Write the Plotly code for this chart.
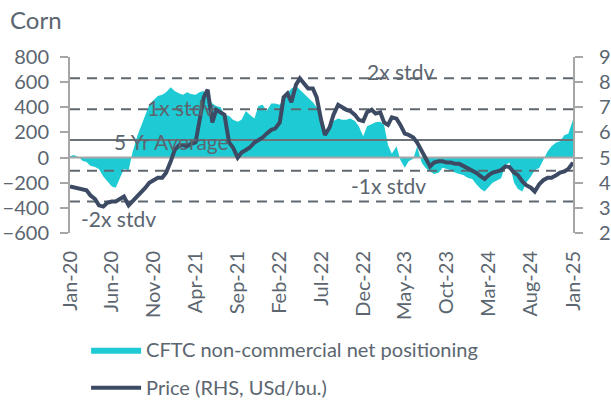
import pandas as pd
import plotly.graph_objects as go

# semi-monthly observation dates, Jan-2020 .. Jan-2025
dates = pd.date_range("2020-01-01", periods=121, freq="SMS")

positioning = [
    10, 20, 5, -25, -35, -65, -75, -90, -150, -190, -230, -240,
    -160, -90, -100, 40, 170, 250, 330, 420, 460, 490, 500, 520,
    560, 530, 510, 500, 520, 505, 500, 520, 530, 480, 430, 410,
    400, 340, 330, 300, 285, 300, 370, 340, 310, 410, 420, 370,
    430, 430, 420, 470, 510, 550, 570, 540, 510, 480, 440, 400,
    340, 190, 270, 290, 310, 300, 300, 310, 290, 250, 170, 250,
    270, 280, 285, 260, 100, 30, 90, -20, -80, -30, -10, 90,
    -40, -80, -110, -130, -120, -80, -90, -100, -120, -130, -140, -160,
    -170, -210, -250, -270, -230, -200, -180, -165, -60, -40, -200, -250,
    -270, -200, -150, -100, -80, -20, 50, 90, 120, 130, 180, 190,
    300,
]

price = [
    3.85, 3.82, 3.80, 3.75, 3.70, 3.50, 3.35, 3.10, 3.05, 3.20, 3.25, 3.25,
    3.35, 3.45, 3.10, 3.25, 3.45, 3.60, 3.80, 4.00, 4.10, 4.20, 4.20, 4.40,
    4.85, 5.30, 5.50, 5.50, 5.45, 5.55, 5.60, 6.50, 7.40, 7.70, 6.40, 6.90,
    6.80, 6.70, 5.60, 5.40, 5.00, 5.20, 5.30, 5.40, 5.60, 5.70, 5.80, 5.95,
    6.10, 6.15, 6.40, 7.40, 7.55, 7.20, 7.90, 8.15, 7.95, 7.75, 7.75, 7.40,
    6.50, 5.90, 6.20, 6.70, 7.10, 7.00, 6.90, 6.85, 6.70, 6.50, 6.45, 6.80,
    6.90, 6.75, 6.80, 6.40, 6.30, 6.60, 6.55, 6.30, 5.95, 5.90, 5.80, 5.60,
    5.30, 5.00, 4.65, 4.80, 4.85, 4.85, 4.80, 4.80, 4.75, 4.75, 4.65, 4.60,
    4.45, 4.40, 4.25, 4.15, 4.30, 4.40, 4.45, 4.50, 4.65, 4.62, 4.40, 4.30,
    4.05, 3.90, 3.80, 3.65, 3.95, 4.10, 4.20, 4.20, 4.30, 4.40, 4.45, 4.55,
    4.80,
]

avg_5yr = 140
stdv = 245

tick_dates = pd.date_range("2020-01-01", "2025-01-01", freq="5MS")
tick_labels = ["Jan-20", "Jun-20", "Nov-20", "Apr-21", "Sep-21", "Feb-22", "Jul-22",
               "Dec-22", "May-23", "Oct-23", "Mar-24", "Aug-24", "Jan-25"]

TEXT = "#5b6670"
CYAN = "#1ecbd4"
NAVY = "#3d4a63"
DASH = "#5f6870"
AXIS = "#a6a6a6"
FONT = "Lato"

fig = go.Figure()
fig.add_trace(go.Scatter(
    x=dates, y=positioning, mode="lines", fill="tozeroy",
    line=dict(width=0, color=CYAN), fillcolor=CYAN,
    name="CFTC non-commercial net positioning", legendgroup="a",
))

span = [dates[0], dates[-1]]
fig.add_trace(go.Scatter(x=span, y=[0, 0], mode="lines",
                         line=dict(color=AXIS, width=2), showlegend=False, hoverinfo="skip"))
fig.add_trace(go.Scatter(x=span, y=[avg_5yr, avg_5yr], mode="lines",
                         line=dict(color="#6b7278", width=2), showlegend=False, hoverinfo="skip"))
for k in (2, 1, -1, -2):
    lvl = avg_5yr + k * stdv
    fig.add_trace(go.Scatter(x=span, y=[lvl, lvl], mode="lines",
                             line=dict(color=DASH, width=2, dash="10px,7px"),
                             showlegend=False, hoverinfo="skip"))

fig.add_trace(go.Scatter(
    x=dates, y=price, mode="lines", yaxis="y2",
    line=dict(color=NAVY, width=4),
    name="Price (RHS, USd/bu.)", legendgroup="b",
))

ann_font = dict(family=FONT, size=21, color=TEXT)
ann_pos = [
    ("2x stdv", "2023-04-15", 681), ("1x stdv", "2021-02-04", 395),
    ("5 Yr Average", "2021-01-02", 124), ("-1x stdv", "2023-03-02", -226),
    ("-2x stdv", "2020-06-26", -488),
]
annotations = [dict(x=xd, y=yv, xref="x", yref="y", text=txt, showarrow=False,
                    font=ann_font, xanchor="center", yanchor="middle")
               for txt, xd, yv in ann_pos]

fig.update_layout(
    width=611, height=401,
    margin=dict(l=70, r=38, t=57, b=168, autoexpand=False),
    paper_bgcolor="white", plot_bgcolor="white",
    font=dict(family=FONT, size=20, color=TEXT),
    title=dict(text="Corn", x=10 / 611, xref="container", xanchor="left",
               y=1 - 21 / 401, yref="container", yanchor="middle",
               font=dict(family=FONT, size=24, color=TEXT)),
    showlegend=True,
    legend=dict(x=0.032, y=-0.552, xanchor="left", yanchor="top",
                font=dict(family=FONT, size=20, color=TEXT),
                itemwidth=50, tracegroupgap=9, bgcolor="rgba(0,0,0,0)"),
    annotations=annotations,
    xaxis=dict(type="date", range=[dates[0], dates[-1]], tickvals=tick_dates, ticktext=tick_labels,
               tickangle=-90, showgrid=False, zeroline=False, showline=False, ticks="",
               ticklabelstandoff=13,
               automargin=False, tickfont=dict(family=FONT, size=20, color=TEXT)),
    yaxis=dict(range=[-600, 800], dtick=200, showgrid=False, zeroline=False, automargin=False,
               showline=True, linecolor=AXIS, linewidth=2, ticks="outside", ticklen=8,
               ticklabelstandoff=7,
               tickcolor=AXIS, tickwidth=2, tickfont=dict(family=FONT, size=20, color=TEXT)),
    yaxis2=dict(range=[2, 9], dtick=1, overlaying="y", side="right", showgrid=False,
                zeroline=False, showline=True, linecolor=AXIS, linewidth=2, ticks="outside",
                ticklen=8, tickcolor=AXIS, tickwidth=2, automargin=False,
                ticklabelstandoff=12,
                tickfont=dict(family=FONT, size=20, color=TEXT)),
)

fig.write_html("out.html", post_script="document.body.style.margin='0';",
               config={"displayModeBar": False})
